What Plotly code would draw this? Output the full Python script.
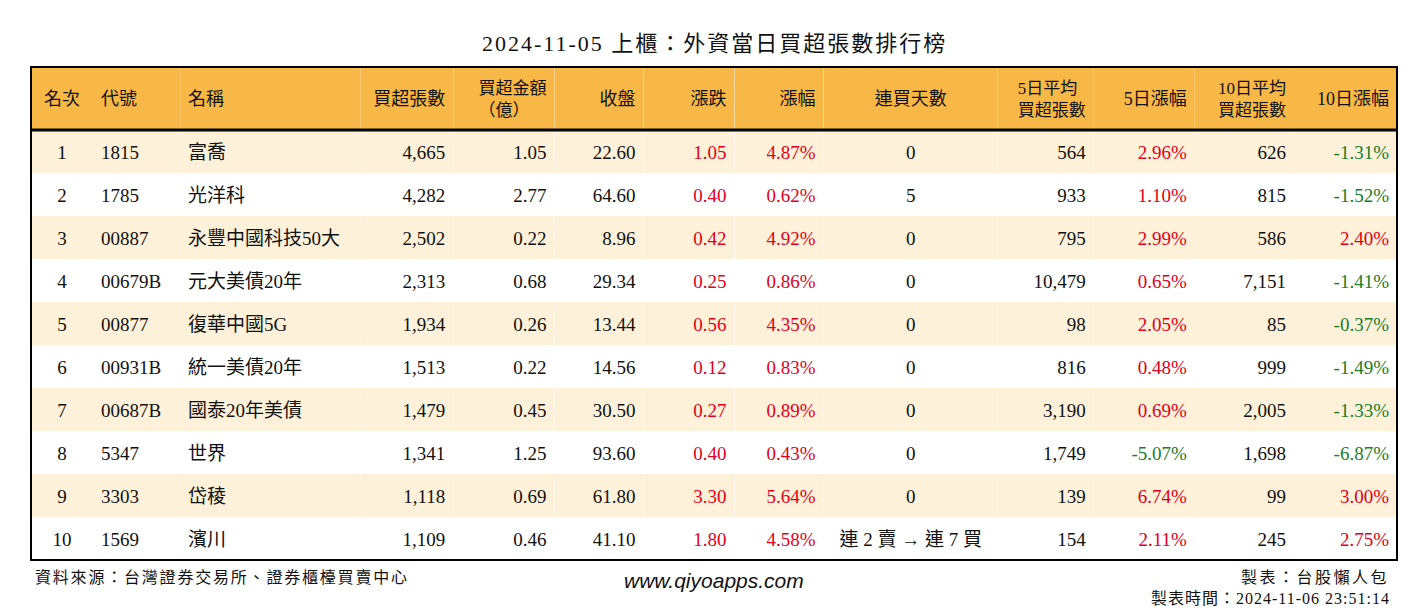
import plotly.graph_objects as go

# 資料
rank = [1, 2, 3, 4, 5, 6, 7, 8, 9, 10]
code = ["1815", "1785", "00887", "00679B", "00877", "00931B", "00687B", "5347", "3303", "1569"]
name = ["富喬", "光洋科", "永豐中國科技50大", "元大美債20年", "復華中國5G",
        "統一美債20年", "國泰20年美債", "世界", "岱稜", "濱川"]
net_buy = [4665, 4282, 2502, 2313, 1934, 1513, 1479, 1341, 1118, 1109]
amount = [1.05, 2.77, 0.22, 0.68, 0.26, 0.22, 0.45, 1.25, 0.69, 0.46]
close = [22.60, 64.60, 8.96, 29.34, 13.44, 14.56, 30.50, 93.60, 61.80, 41.10]
change = [1.05, 0.40, 0.42, 0.25, 0.56, 0.12, 0.27, 0.40, 3.30, 1.80]
pct = [4.87, 0.62, 4.92, 0.86, 4.35, 0.83, 0.89, 0.43, 5.64, 4.58]
streak = ["0", "5", "0", "0", "0", "0", "0", "0", "0", "連 2 賣 → 連 7 買"]
avg5 = [564, 933, 795, 10479, 98, 816, 3190, 1749, 139, 154]
pct5 = [2.96, 1.10, 2.99, 0.65, 2.05, 0.48, 0.69, -5.07, 6.74, 2.11]
avg10 = [626, 815, 586, 7151, 85, 999, 2005, 1698, 99, 245]
pct10 = [-1.31, -1.52, 2.40, -1.41, -0.37, -1.49, -1.33, -6.87, 3.00, 2.75]

headers = ["名次", "代號", "名稱", "買超張數", "買超金額<br>（億）&nbsp;", "收盤", "漲跌", "漲幅",
           "連買天數", "5日平均<br>買超張數", "5日漲幅", "10日平均<br>買超張數", "10日漲幅"]

title = "2024-11-05 上櫃：外資當日買超張數排行榜"
source = "資料來源：台灣證券交易所、證券櫃檯買賣中心"
site = "www.qiyoapps.com"
maker = "製表：台股懶人包"
made_at = "製表時間：2024-11-06 23:51:14"

# page is offset by the 8px body margin
PW, PH, OFF = 1412, 604, 8
RED, GREEN, BLACK = "#e0001b", "#1a7d2b", "#111111"
FONT = "Liberation Serif, Noto Sans CJK TC, serif"
CLEAR = "rgba(0,0,0,0)"


def px(x):
    return (x - OFF) / PW


def py(y):
    return 1 - (y - OFF) / PH


def sign_color(vals):
    return [RED if v > 0 else (GREEN if v < 0 else BLACK) for v in vals]


columns = [
    [str(r) for r in rank],
    code,
    name,
    [f"{v:,}" for v in net_buy],
    [f"{v:.2f}" for v in amount],
    [f"{v:.2f}" for v in close],
    [f"{v:.2f}" for v in change],
    [f"{v:.2f}%" for v in pct],
    streak,
    [f"{v:,}" for v in avg5],
    [f"{v:.2f}%" for v in pct5],
    [f"{v:,}" for v in avg10],
    [f"{v:.2f}%" for v in pct10],
]
font_colors = [[BLACK] * 10] * 6 + [sign_color(change), sign_color(pct), [BLACK] * 10,
                                    [BLACK] * 10, sign_color(pct5), [BLACK] * 10, sign_color(pct10)]
align = ["center", "left", "left", "right", "right", "right", "right", "right",
         "center", "right", "right", "right", "right"]
widths = [62, 87, 180, 93, 101, 89, 91, 89, 174, 96, 101, 99, 103]
row_fill = ["#fdf1d9" if i % 2 == 0 else "#ffffff" for i in range(10)]

x0, x1, y0, y1, yh = 31, 1397, 67, 560, 130
HEAD_H, ROW_H = 63, 43
blank_head = [""] * len(headers)


def layer(head_vals, cell_vals, shift, head_fill=CLEAR, cell_fill=CLEAR, head_size=18):
    # plotly tables put text near the top of a cell; layers are nudged down to centre it
    top = y0 + shift
    return go.Table(
        domain=dict(x=[px(x0), px(x1)], y=[py(top + HEAD_H + ROW_H * len(cell_vals[0]) + 10), py(top)]),
        columnwidth=widths,
        header=dict(values=head_vals, align=align, height=HEAD_H,
                    fill_color=head_fill, line=dict(width=0),
                    font=dict(family=FONT, size=head_size, color=BLACK)),
        cells=dict(values=cell_vals, align=align, height=ROW_H,
                   fill_color=cell_fill, line=dict(width=0),
                   font=dict(family=FONT, size=19, color=font_colors)),
    )


two_line = ["<br>" in h for h in headers]
fig = go.Figure([
    layer(blank_head, [[""] * 10] * 13, 0, head_fill="#f8b847", cell_fill=[row_fill] * 13),
    layer(blank_head, columns, 7),
    layer([("" if t else h) for h, t in zip(headers, two_line)], [[""]] * 13, 16),
    layer([(h if t else "") for h, t in zip(headers, two_line)], [[""]] * 13, 4, head_size=17),
])

fig.add_shape(type="rect", xref="paper", yref="paper",
              x0=px(x0), x1=px(x1), y0=py(y1), y1=py(y0),
              line=dict(color="black", width=2))
fig.add_shape(type="line", xref="paper", yref="paper",
              x0=px(x0), x1=px(x1), y0=py(yh), y1=py(yh),
              line=dict(color="black", width=3))


def note(text, x, y, xanchor, size, family=FONT, spacing=0):
    style = f"letter-spacing:{spacing}px" if spacing else ""
    fig.add_annotation(text=f"<span style='{style}'>{text}</span>" if style else text,
                       x=px(x), y=py(y), xref="paper", yref="paper",
                       xanchor=xanchor, yanchor="middle", showarrow=False,
                       font=dict(family=family, size=size, color=BLACK))


note(title, 714, 43, "center", 22, spacing=2)
note(source, 33, 577, "left", 16, spacing=1.8)
note(f"<i>{site}</i>", 714, 580, "center", 21, family="Liberation Sans, Arial")
note(maker, 1391, 577, "right", 16, spacing=2.5)
note(made_at, 1392, 598, "right", 16, spacing=1)

fig.update_layout(width=PW, height=PH, margin=dict(l=0, r=0, t=0, b=0),
                  paper_bgcolor="white", plot_bgcolor="white")

fig.write_html("out.html")
